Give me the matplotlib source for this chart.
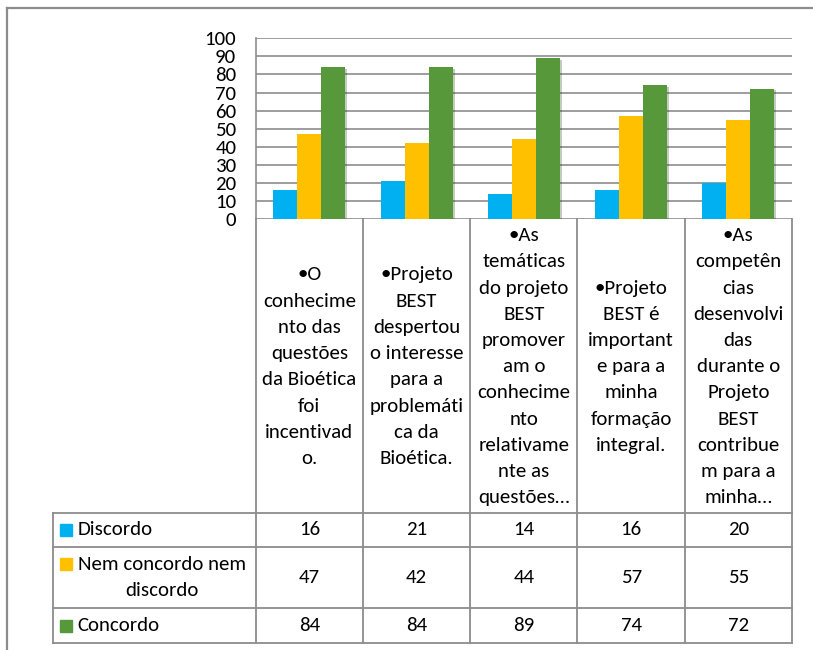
import numpy as np
import matplotlib
matplotlib.use('Agg')
import matplotlib.pyplot as plt
import matplotlib.patheffects as pe
from matplotlib import font_manager
from matplotlib.patches import Rectangle

# fonte parecida com Calibri
nomes = {f.name for f in font_manager.fontManager.ttflist}
FONTE = 'Carlito' if 'Carlito' in nomes else 'Lato'
plt.rcParams['font.family'] = [FONTE, 'DejaVu Sans']
TAM = 15 if FONTE == 'Carlito' else 14.5
TAM_Y = 15 if FONTE == 'Carlito' else 14

# dados
categorias = [
    "•O\nconhecime\nnto das\nquestões\nda Bioética\nfoi\nincentivad\no.",
    "•Projeto\nBEST\ndespertou\no interesse\npara a\nproblemáti\nca da\nBioética.",
    "•As\ntemáticas\ndo projeto\nBEST\npromover\nam o\nconhecime\nnto\nrelativame\nnte as\nquestões…",
    "•Projeto\nBEST é\nimportant\ne para a\nminha\nformação\nintegral.",
    "•As\ncompetên\ncias\ndesenvolvi\ndas\ndurante o\nProjeto\nBEST\ncontribue\nm para a\nminha…",
]
series = ["Discordo", "Nem concordo nem\ndiscordo", "Concordo"]
discordo = [16, 21, 14, 16, 20]
nem = [47, 42, 44, 57, 55]
concordo = [84, 84, 89, 74, 72]
valores = [discordo, nem, concordo]
cores = ['#00B0F0', '#FFC000', '#56983A']
yticks = list(range(0, 101, 10))

W, H = 813, 650
fig = plt.figure(figsize=(W / 100, H / 100), dpi=100)

# geometria em pixels
x0, x1 = 255.7, 792.0
ytop, ybot = 38.3, 219.0
linhas = [512.5, 546.7, 608.0, 643.3]
xleg = 52.7
cinza = '#8c8c8c'
ESP = 1.66

ax = fig.add_axes([x0 / W, (H - ybot) / H, (x1 - x0) / W, (ybot - ytop) / H])
n = len(categorias)
x = np.arange(n)
bw = 0.224
sombra = [pe.SimplePatchShadow(offset=(1.5, -1), alpha=0.25), pe.Normal()]
for i, (v, c) in enumerate(zip(valores, cores)):
    barras = ax.bar(x + (i - 1) * bw, v, width=bw, color=c, zorder=3)
    for b in barras:
        b.set_path_effects(sombra)
ax.set_xlim(-0.5, n - 0.5)
ax.set_ylim(0, 100)
ax.set_yticks(yticks)
ax.set_yticklabels([str(t) for t in yticks], fontsize=TAM_Y)
ax.tick_params(axis='y', length=0, pad=14)
ax.set_xticks([])
ax.grid(axis='y', color=cinza, linewidth=1.2, zorder=0)
for s in ['top', 'right', 'bottom']:
    ax.spines[s].set_visible(False)
ax.spines['left'].set_color(cinza)
ax.spines['left'].set_linewidth(1.2)

# tabela de dados desenhada em coordenadas de pixel
tb = fig.add_axes([0, 0, 1, 1], facecolor='none')
tb.set_xlim(0, W)
tb.set_ylim(H, 0)
tb.axis('off')

cw = (x1 - x0) / n
lw = 1.3
for k in range(n + 1):
    tb.plot([x0 + k * cw] * 2, [ybot, linhas[-1]], color=cinza, lw=lw)
tb.plot([xleg, xleg], [linhas[0], linhas[-1]], color=cinza, lw=lw)
for yl in linhas:
    tb.plot([xleg, x1], [yl, yl], color=cinza, lw=lw)

for k, cat in enumerate(categorias):
    tb.text(x0 + (k + 0.5) * cw, (ybot + linhas[0]) / 2 + 1, cat, ha='center', va='center',
            multialignment='center', fontsize=TAM, linespacing=ESP)

passo = 26.5
for r, (nome, v, c) in enumerate(zip(series, valores, cores)):
    yc = (linhas[r] + linhas[r + 1]) / 2
    nl = nome.count('\n') + 1
    yq = yc - (nl - 1) * passo / 2
    tb.add_patch(Rectangle((60, yq - 5.8), 11.7, 11.7, color=c))
    tb.text(77.5, yc, nome, ha='left', va='center', multialignment='center',
            fontsize=TAM, linespacing=1.6)
    for k in range(n):
        tb.text(x0 + (k + 0.5) * cw, yc, str(v[k]), ha='center', va='center', fontsize=TAM)

# moldura do gráfico
tb.plot([7, 7], [8, H], color=cinza, lw=1.6)
tb.plot([7, W], [8, 8], color=cinza, lw=1.6)

fig.savefig('out.png', dpi=100)
